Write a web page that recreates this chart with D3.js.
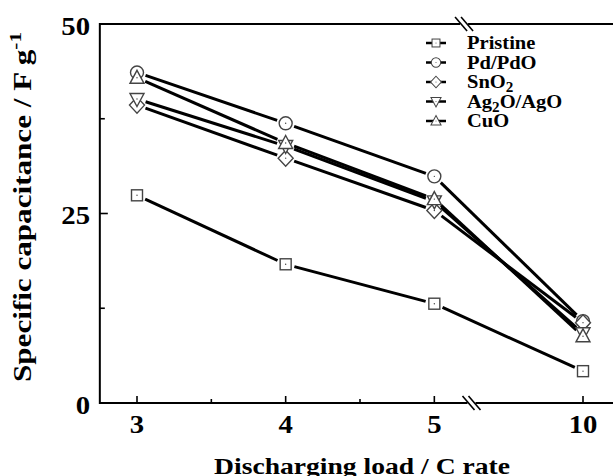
<!DOCTYPE html>
<html>
<head>
<meta charset="utf-8">
<script src="https://cdn.jsdelivr.net/npm/d3@7"></script>
<style>
  body { margin: 0; background: #fff; }
  text { font-family: "Liberation Serif", "Times New Roman", serif; font-weight: bold; }
</style>
</head>
<body>
<svg id="chart" width="613" height="476"></svg>
<script>
// discharging load (C rate), plotted at equal spacing with a break before 10
var rates = ["3", "4", "5", "10"];
var yTicks = [0, 25, 50];
var yMinor = [12.5, 37.5];

var pristine = [27.4, 18.3, 13.1, 4.2];
var pdpdo    = [43.6, 36.9, 29.9, 10.8];
var sno2     = [39.3, 32.3, 25.4, 10.6];
var ag2o     = [40.1, 33.9, 26.6, 9.2];
var cuo      = [42.9, 34.3, 26.9, 8.8];

var series = [
  {name: "Pristine", values: pristine, shape: "square"},
  {name: "Pd/PdO",   values: pdpdo,    shape: "circle"},
  {name: "SnO2",     values: sno2,     shape: "diamond"},
  {name: "Ag2O/AgO", values: ag2o,     shape: "down"},
  {name: "CuO",      values: cuo,      shape: "up"}
];

var svg = d3.select("#chart");

var x = d3.scaleLinear().domain([0, 3]).range([137, 583]);
var y = d3.scaleLinear().domain([0, 50]).range([403, 24]);

var axisColor = "#000";

// horizontally stretched text (the original type is set a little wide)
function label(px, py, size, anchor, sx) {
  return svg.append("g").attr("transform", "translate(" + px + "," + py + ") scale(" + (sx || 1.15) + ",1)")
    .append("text").attr("font-size", size).attr("text-anchor", anchor || "start");
}

// axis lines
svg.append("line").attr("x1", x(-0.25)).attr("x2", 613).attr("y1", y(0)).attr("y2", y(0))
  .attr("stroke", axisColor).attr("stroke-width", 2);
svg.append("line").attr("x1", x(-0.25)).attr("x2", 613).attr("y1", y(50)).attr("y2", y(50))
  .attr("stroke", axisColor).attr("stroke-width", 2);
svg.append("line").attr("x1", x(-0.25)).attr("x2", x(-0.25)).attr("y1", y(0) + 1).attr("y2", y(50) - 1)
  .attr("stroke", axisColor).attr("stroke-width", 2);

// x ticks (inward)
svg.selectAll(".xt").data(rates).enter().append("line")
  .attr("x1", function(d, i) { return x(i); }).attr("x2", function(d, i) { return x(i); })
  .attr("y1", y(0)).attr("y2", y(0) - 7)
  .attr("stroke", axisColor).attr("stroke-width", 1.6);
svg.selectAll(".xm").data([0.5, 1.5]).enter().append("line")
  .attr("x1", function(d) { return x(d); }).attr("x2", function(d) { return x(d); })
  .attr("y1", y(0)).attr("y2", y(0) - 4)
  .attr("stroke", axisColor).attr("stroke-width", 1.6);
rates.forEach(function(d, i) {
  label(x(i), 433, 25, "middle").text(d);
});

// y ticks (inward)
svg.selectAll(".yt").data(yTicks.slice(1, 2)).enter().append("line")
  .attr("x1", x(-0.25)).attr("x2", x(-0.25) + 8)
  .attr("y1", function(d) { return y(d); }).attr("y2", function(d) { return y(d); })
  .attr("stroke", axisColor).attr("stroke-width", 1.6);
svg.selectAll(".ym").data(yMinor).enter().append("line")
  .attr("x1", x(-0.25)).attr("x2", x(-0.25) + 5)
  .attr("y1", function(d) { return y(d); }).attr("y2", function(d) { return y(d); })
  .attr("stroke", axisColor).attr("stroke-width", 1.6);
yTicks.forEach(function(d) {
  label(90, y(d) + 10.5, 25, "end").text(d);
});

// axis breaks
function brk(cx, cy) {
  svg.append("rect").attr("x", cx - 4).attr("y", cy - 2).attr("width", 8).attr("height", 4).attr("fill", "#fff");
  [-3, 3].forEach(function(o) {
    svg.append("line")
      .attr("x1", cx + o - 6).attr("y1", cy - 7)
      .attr("x2", cx + o + 6).attr("y2", cy + 7)
      .attr("stroke", axisColor).attr("stroke-width", 1.6);
  });
}
brk(x(2.25), y(0));
brk(x(2.2), y(50));

// axis titles
label(362, 474, 24, "middle").text("Discharging load / C rate");

var yl = svg.append("text").attr("transform", "translate(31,207) rotate(-90)")
  .attr("text-anchor", "middle").attr("font-size", 25)
  .attr("textLength", 350).attr("lengthAdjust", "spacingAndGlyphs");
yl.append("tspan").text("Specific capacitance / F g");
yl.append("tspan").attr("dy", -10).attr("font-size", 17).text("-1");

// markers
function marker(g, shape) {
  var m;
  if (shape === "circle") {
    m = g.append("circle").attr("r", 6.5);
  } else if (shape === "square") {
    m = g.append("rect").attr("x", -5.5).attr("y", -5.5).attr("width", 11).attr("height", 11);
  } else if (shape === "diamond") {
    m = g.append("path").attr("d", "M0,-8L7.5,0L0,8L-7.5,0Z");
  } else if (shape === "up") {
    m = g.append("path").attr("d", "M0,-7.5L7,5.5L-7,5.5Z");
  } else {
    m = g.append("path").attr("d", "M0,7.5L7,-5.5L-7,-5.5Z");
  }
  m.attr("fill", "#fff").attr("stroke", "#444").attr("stroke-width", 1.4);
  g.append("circle").attr("r", 0.7).attr("fill", "#444");
}

// line segments, shortened so they stop short of the markers
var gap = 9;
series.forEach(function(s) {
  for (var i = 0; i < s.values.length - 1; i++) {
    var x1 = x(i), y1 = y(s.values[i]), x2 = x(i + 1), y2 = y(s.values[i + 1]);
    var dx = x2 - x1, dy = y2 - y1, len = Math.sqrt(dx * dx + dy * dy);
    svg.append("line")
      .attr("x1", x1 + dx / len * gap).attr("y1", y1 + dy / len * gap)
      .attr("x2", x2 - dx / len * gap).attr("y2", y2 - dy / len * gap)
      .attr("stroke", "#000").attr("stroke-width", 3);
  }
});
series.forEach(function(s) {
  s.values.forEach(function(v, i) {
    var g = svg.append("g").attr("transform", "translate(" + x(i) + "," + y(v) + ")");
    marker(g, s.shape);
  });
});

// legend
series.forEach(function(s, i) {
  var ry = 43 + i * 19.5;
  var row = svg.append("g").attr("transform", "translate(426," + ry + ")");
  row.append("line").attr("x1", 0).attr("x2", 20).attr("y1", 0).attr("y2", 0)
    .attr("stroke", "#000").attr("stroke-width", 2.5);
  var mg = row.append("g").attr("transform", "translate(10,0) scale(0.72)");
  marker(mg, s.shape);
  var t = label(467, ry + 6, 19, "start", 1.08);
  if (s.name === "SnO2") {
    t.append("tspan").text("SnO");
    t.append("tspan").attr("dy", 4).attr("font-size", 14).text("2");
  } else if (s.name === "Ag2O/AgO") {
    t.append("tspan").text("Ag");
    t.append("tspan").attr("dy", 4).attr("font-size", 14).text("2");
    t.append("tspan").attr("dy", -4).text("O/AgO");
  } else {
    t.text(s.name);
  }
});
</script>
</body>
</html>
